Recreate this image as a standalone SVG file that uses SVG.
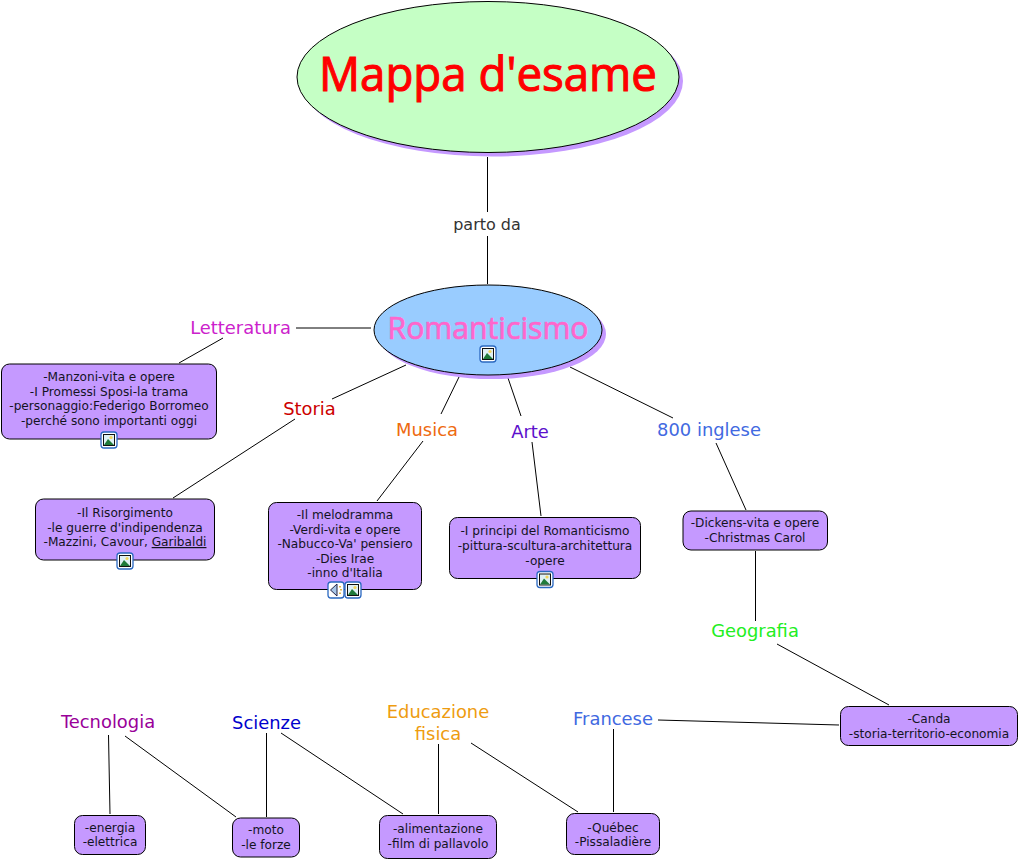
<svg xmlns="http://www.w3.org/2000/svg" width="1019" height="860" viewBox="0 0 1019 860">
<style>
text{font-family:"DejaVu Sans","Liberation Sans",sans-serif;text-anchor:middle}
.b{fill:#c599ff;stroke:#000;stroke-width:1}
.s{fill:#c599ff}
.t{font-size:12.15px;fill:#14141f}
.l{font-size:17.9px}
.c{font-family:"Open Sans","Noto Sans",sans-serif}
#connectors line{stroke:#000;stroke-width:1}
</style>
<defs>
<g id="pic">
<rect x="0.500" y="0.500" width="16" height="16" rx="3" fill="#fff" stroke="#2a68c0" stroke-width="1.300"/>
<rect x="3" y="3" width="11" height="11" fill="#dff0f5" stroke="#111" stroke-width="1"/>
<circle cx="10.500" cy="6" r="1.600" fill="#f2d45c"/>
<path d="M3.500 13.500L7.500 7.500L13.500 13.500Z" fill="#1f7a3a"/>
</g>
<g id="snd">
<rect x="0.500" y="0.500" width="16" height="16" rx="3" fill="#fff" stroke="#2a68c0" stroke-width="1.300"/>
<path d="M3 8.500L9.500 2.500V14.500Z" fill="#a9c7e8" stroke="#224" stroke-width="1"/>
<path d="M12.500 4.500v1.500M13.500 7.500v1.500M12.500 11v1.500" stroke="#d9a520" stroke-width="1.600"/>
</g>
</defs>
<g id="connectors">
<line x1="487.500" y1="157" x2="487.500" y2="212"/>
<line x1="487.500" y1="236" x2="487.500" y2="284"/>
<line x1="296" y1="328" x2="371" y2="328"/>
<line x1="223" y1="338" x2="179" y2="363"/>
<line x1="406" y1="365" x2="332" y2="399"/>
<line x1="295" y1="419" x2="173" y2="498"/>
<line x1="459" y1="377" x2="441" y2="414"/>
<line x1="423" y1="441" x2="377" y2="501"/>
<line x1="508" y1="378" x2="521" y2="416"/>
<line x1="532" y1="442" x2="541" y2="516"/>
<line x1="570" y1="367" x2="673" y2="418"/>
<line x1="716" y1="443" x2="746" y2="510"/>
<line x1="755.500" y1="551" x2="755.500" y2="621"/>
<line x1="777" y1="644" x2="889" y2="705"/>
<line x1="658" y1="720" x2="839" y2="725"/>
<line x1="613.500" y1="729" x2="613.500" y2="812"/>
<line x1="471" y1="743" x2="578" y2="812"/>
<line x1="438.500" y1="744" x2="438.500" y2="814"/>
<line x1="281" y1="733" x2="403" y2="814"/>
<line x1="266.500" y1="733" x2="266.500" y2="817"/>
<line x1="125" y1="736" x2="236" y2="817"/>
<line x1="108.500" y1="735" x2="110" y2="814"/>
</g>
<g id="n-title">
<ellipse class="s" cx="492" cy="81" rx="191" ry="75.500"/>
<ellipse cx="488" cy="77" rx="191" ry="75.500" fill="#c5ffc5" stroke="#000"/>
<text class="c" x="488" y="91" font-size="48" fill="#ff0000" stroke="#ff0000" stroke-width="1.100" textLength="338" lengthAdjust="spacingAndGlyphs">Mappa d'esame</text>
</g>
<g id="n-partoda"><text x="487" y="230" font-size="16" fill="#333">parto da</text></g>
<g id="n-romanticismo">
<ellipse class="s" cx="492" cy="334" rx="114" ry="45"/>
<ellipse cx="488" cy="330" rx="114" ry="45" fill="#99ccff" stroke="#000"/>
<text class="c" x="488" y="339" font-size="31" fill="#ff66cc" stroke="#ff66cc" stroke-width="0.700" textLength="201" lengthAdjust="spacingAndGlyphs">Romanticismo</text>
<use href="#pic" x="479.500" y="345.500"/>
</g>
<g id="n-letteratura"><text class="l" x="240.500" y="334" fill="#cc22cc">Letteratura</text></g>
<g id="n-storia"><text class="l" x="309.500" y="415" fill="#cc0000">Storia</text></g>
<g id="n-musica"><text class="l" x="427" y="436" fill="#ee6a10">Musica</text></g>
<g id="n-arte"><text class="l" x="530" y="437.500" fill="#5c10cc">Arte</text></g>
<g id="n-800"><text class="l" x="709" y="435.500" fill="#4169e1">800 inglese</text></g>
<g id="n-geografia"><text class="l" x="755" y="636.500" fill="#22ee22">Geografia</text></g>
<g id="n-francese"><text class="l" x="613" y="725" fill="#4169e1">Francese</text></g>
<g id="n-edfisica"><text class="l" fill="#ee9c10"><tspan x="438" y="718">Educazione</tspan><tspan x="438" y="740">fisica</tspan></text></g>
<g id="n-scienze"><text class="l" x="266.500" y="729" fill="#0000cc">Scienze</text></g>
<g id="n-tecnologia"><text class="l" x="108" y="728" fill="#990099">Tecnologia</text></g>
<g id="n-manzoni">
<rect class="b" x="1.500" y="364" width="215" height="75" rx="8"/>
<text class="t"><tspan x="109" y="381">-Manzoni-vita e opere</tspan><tspan x="109" y="395.500">-I Promessi Sposi-la trama</tspan><tspan x="109" y="410">-personaggio:Federigo Borromeo</tspan><tspan x="109" y="425">-perché sono importanti oggi</tspan></text>
<use href="#pic" x="100.500" y="431.500"/>
</g>
<g id="n-risorgimento">
<rect class="b" x="35.500" y="499" width="179" height="61" rx="8"/>
<text class="t"><tspan x="125" y="517">-Il Risorgimento</tspan><tspan x="125" y="532">-le guerre d'indipendenza</tspan><tspan x="125" y="546">-Mazzini, Cavour, <tspan text-decoration="underline">Garibaldi</tspan></tspan></text>
<use href="#pic" x="116.500" y="552.500"/>
</g>
<g id="n-melodramma">
<rect class="b" x="268.500" y="502.500" width="153" height="87" rx="8"/>
<text class="t"><tspan x="345" y="519">-Il melodramma</tspan><tspan x="345" y="533.500">-Verdi-vita e opere</tspan><tspan x="345" y="548">-Nabucco-Va' pensiero</tspan><tspan x="345" y="562.500">-Dies Irae</tspan><tspan x="345" y="577">-inno d'Italia</tspan></text>
<use href="#snd" x="327.500" y="581.500"/>
<use href="#pic" x="344.500" y="581.500"/>
</g>
<g id="n-principi">
<rect class="b" x="449.500" y="517.500" width="191" height="61" rx="8"/>
<text class="t"><tspan x="545" y="535">-I principi del Romanticismo</tspan><tspan x="545" y="550">-pittura-scultura-architettura</tspan><tspan x="545" y="564.500">-opere</tspan></text>
<use href="#pic" x="536.500" y="571"/>
</g>
<g id="n-dickens">
<rect class="b" x="683" y="511" width="144.500" height="39" rx="8"/>
<text class="t"><tspan x="755" y="527">-Dickens-vita e opere</tspan><tspan x="755" y="542">-Christmas Carol</tspan></text>
</g>
<g id="n-canda">
<rect class="b" x="840.500" y="706.500" width="177" height="39" rx="8"/>
<text class="t"><tspan x="929" y="723">-Canda</tspan><tspan x="929" y="738">-storia-territorio-economia</tspan></text>
</g>
<g id="n-energia">
<rect class="b" x="74.500" y="815.500" width="71" height="39" rx="8"/>
<text class="t"><tspan x="110" y="832">-energia</tspan><tspan x="110" y="846">-elettrica</tspan></text>
</g>
<g id="n-moto">
<rect class="b" x="232.500" y="818" width="67" height="39" rx="8"/>
<text class="t"><tspan x="266" y="834">-moto</tspan><tspan x="266" y="849">-le forze</tspan></text>
</g>
<g id="n-alimentazione">
<rect class="b" x="379.500" y="815.500" width="117" height="43" rx="8"/>
<text class="t"><tspan x="438" y="833">-alimentazione</tspan><tspan x="438" y="848">-film di pallavolo</tspan></text>
</g>
<g id="n-quebec">
<rect class="b" x="566.500" y="813.500" width="93" height="41" rx="8"/>
<text class="t"><tspan x="613" y="832">-Québec</tspan><tspan x="613" y="846">-Pissaladière</tspan></text>
</g>
</svg>
